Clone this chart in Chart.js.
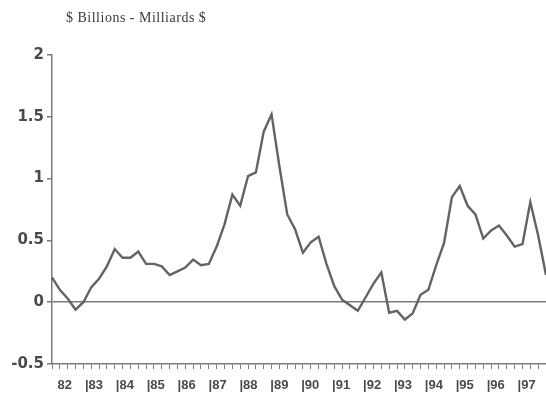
<!DOCTYPE html>
<html>
<head>
<meta charset="utf-8">
<script src="https://cdn.jsdelivr.net/npm/chart.js@4.4.1/dist/chart.umd.min.js"></script>
<style>
  html, body { margin: 0; padding: 0; background: #fff; }
  #wrap { width: 546px; height: 418px; }
</style>
</head>
<body>
<div id="wrap"><canvas id="mainChart" width="546" height="418"></canvas></div>
<script>
// Unit title shown above the plot
const unitTitle = "$ Billions - Milliards $";

// Year labels under the axis (one per year, 1982 to 1997)
const yearLabels = ["82", "|83", "|84", "|85", "|86", "|87", "|88", "|89",
                    "|90", "|91", "|92", "|93", "|94", "|95", "|96", "|97"];

// Y axis tick values
const yTicks = [-0.5, 0, 0.5, 1, 1.5, 2];

// Quarterly values, 1982 Q1 to 1997 Q4 ($ billions)
const quarterValues = [
  0.20, 0.10, 0.03, -0.06,   // 82
  0.00, 0.12, 0.19, 0.29,    // 83
  0.43, 0.36, 0.36, 0.41,    // 84
  0.31, 0.31, 0.29, 0.22,    // 85
  0.25, 0.28, 0.345, 0.30,   // 86
  0.31, 0.45, 0.63, 0.87,    // 87
  0.78, 1.02, 1.05, 1.38,    // 88
  1.52, 1.10, 0.71, 0.59,    // 89
  0.40, 0.485, 0.53, 0.31,   // 90
  0.13, 0.02, -0.025, -0.07, // 91
  0.04, 0.15, 0.24, -0.085,  // 92
  -0.07, -0.14, -0.09, 0.06, // 93
  0.10, 0.30, 0.48, 0.85,    // 94
  0.94, 0.78, 0.71, 0.515,   // 95
  0.58, 0.62, 0.54, 0.45,    // 96
  0.47, 0.81, 0.54, 0.22     // 97
];

const axisGrey = '#7a7a7a';
const textGrey = '#4a4a4a';

// titre dessiné à la main, décalé vers la droite comme dans l'original
const unitTitlePlugin = {
  id: 'unitTitle',
  afterDraw(chart) {
    const ctx = chart.ctx;
    ctx.save();
    ctx.font = '14px "Liberation Serif", serif';
    ctx.letterSpacing = '0.5px';
    ctx.fillStyle = '#3a3a3a';
    ctx.textBaseline = 'middle';
    ctx.fillText(unitTitle, 66, 18);
    ctx.restore();
  }
};

const points = quarterValues.map((v, i) => ({ x: i, y: v }));
const lastIndex = quarterValues.length - 1;

new Chart(document.getElementById('mainChart'), {
  type: 'line',
  data: {
    datasets: [{
      data: points,
      borderColor: '#636363',
      borderWidth: 2.4,
      pointRadius: 0,
      tension: 0,
      clip: false
    }]
  },
  options: {
    responsive: false,
    animation: false,
    devicePixelRatio: 1,
    layout: { padding: { top: 55, left: 0, right: 0, bottom: 0 } },
    plugins: { legend: { display: false }, tooltip: { enabled: false } },
    scales: {
      y: {
        min: -0.5,
        max: 2,
        afterBuildTicks: s => { s.ticks = yTicks.map(v => ({ value: v })); },
        afterFit: s => { s.width = 52; },
        border: { color: axisGrey, width: 1.5 },
        grid: {
          drawOnChartArea: true,
          color: c => (c.tick && c.tick.value === 0) ? axisGrey : 'rgba(0,0,0,0)',
          lineWidth: 1.5,
          tickColor: axisGrey,
          tickLength: 5
        },
        ticks: {
          padding: 3,
          color: textGrey,
          font: { family: '"DejaVu Sans", sans-serif', size: 15, weight: 'bold' },
          callback: v => String(v)
        }
      },
      x: {
        type: 'linear',
        min: 0,
        max: lastIndex,
        weight: 0,
        afterBuildTicks: s => {
          const t = [];
          for (let i = 0; i <= lastIndex; i++) t.push({ value: i });
          s.ticks = t;
        },
        afterFit: s => { s.height = 7; },
        border: { color: axisGrey, width: 1.5 },
        grid: { drawOnChartArea: false, color: axisGrey, lineWidth: 1, tickLength: 5 },
        ticks: { display: false }
      },
      x2: {
        type: 'linear',
        position: 'bottom',
        min: 0,
        max: lastIndex,
        weight: 1,
        afterBuildTicks: s => {
          // year slots are a bit narrower than 4 quarters in the original
          s.ticks = yearLabels.map((l, k) => ({ value: 0.255 + 3.941 * k }));
        },
        afterFit: s => { s.height = 47; },
        border: { display: false },
        grid: { display: false },
        ticks: {
          align: 'start',
          padding: -1,
          color: textGrey,
          autoSkip: false,
          maxRotation: 0,
          font: { family: '"Liberation Sans", Arial, sans-serif', size: 13, weight: 'bold' },
          callback: (v, i) => {
            const l = yearLabels[i];
            return l.startsWith('|') ? l : ' ' + l;
          }
        }
      }
    }
  },
  plugins: [unitTitlePlugin]
});
</script>
</body>
</html>
